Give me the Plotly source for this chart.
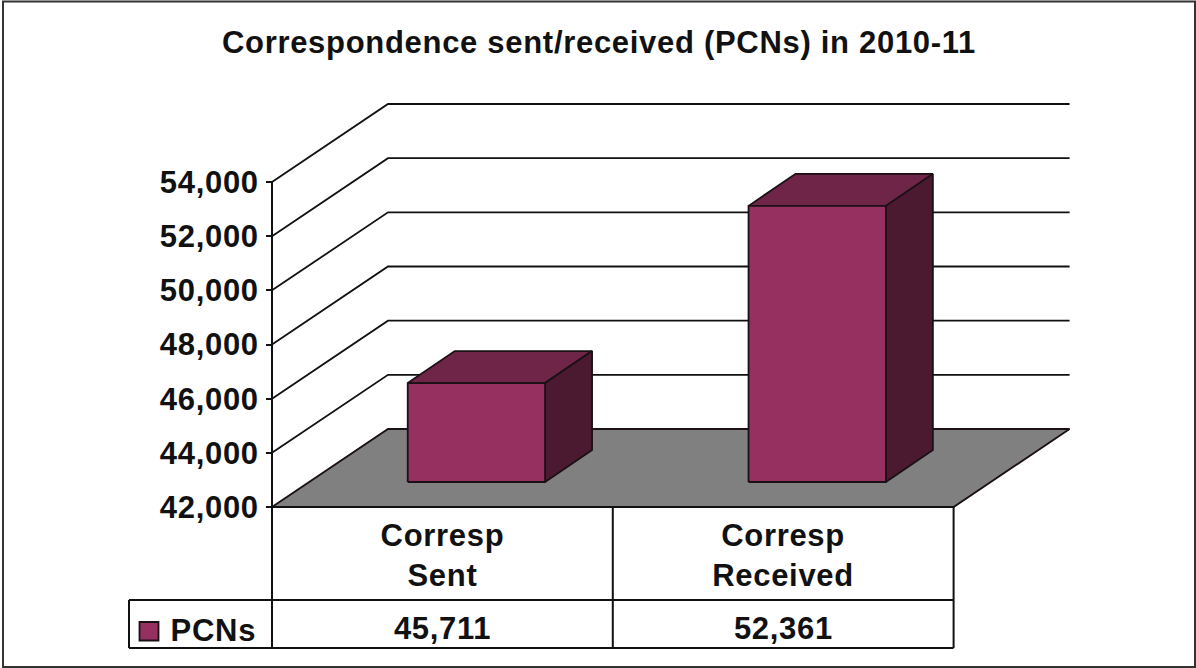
import plotly.graph_objects as go

# ---- data ----
title = "Correspondence sent/received (PCNs) in 2010-11"
categories = ["Corresp<br>Sent", "Corresp<br>Received"]
series_name = "PCNs"
pcn_values = [45711, 52361]
y_ticks = [42000, 44000, 46000, 48000, 50000, 52000, 54000]

# ---- geometry (style) ----
W, H = 1196, 668
X0, Y0 = 272, 507            # pixel of category 0 / value 42000 on front plane
PX_CAT = 340.8               # px per category
PX_VAL = 325 / 12000         # px per value unit
WALL_DX, WALL_DY = 116, 78   # front plane to back wall
BAR_DX, BAR_DY = 47, 32      # bar depth
BAR_OFF_DX, BAR_OFF_DY = 34, 25
BAR_WIDTH = 0.403
BAR_SCALE = 0.984
VMIN = y_ticks[0]
VMAX = y_ticks[-1]
FONT = "Liberation Sans"
INK = "#111111"
LETTER_SPACING = "0.7px"

def dx(px):
    return px / PX_CAT

def dv(px):
    return px / PX_VAL

def poly(xs, ys, fill, lw=1.8):
    return go.Scatter(x=xs, y=ys, mode="lines", fill="toself", fillcolor=fill,
                      line=dict(color="#1a1016", width=lw), hoverinfo="skip", showlegend=False)

def line(xs, ys, color=INK, lw=2):
    return go.Scatter(x=xs, y=ys, mode="lines", line=dict(color=color, width=lw),
                      hoverinfo="skip", showlegend=False)

fig = go.Figure()
n = len(categories)

# back wall gridlines and side wall lines
for t in y_ticks[1:]:
    fig.add_trace(line([0, dx(WALL_DX), n + dx(WALL_DX)],
                       [t, t + dv(WALL_DY), t + dv(WALL_DY)], lw=1.8))
# floor
fig.add_trace(poly([0, dx(WALL_DX), n + dx(WALL_DX), n, 0],
                   [VMIN, VMIN + dv(WALL_DY), VMIN + dv(WALL_DY), VMIN, VMIN], "#808080"))
# axis line
fig.add_trace(line([0, 0], [VMIN, VMAX], lw=2))

# bars
for i, v in enumerate(pcn_values):
    x0 = i + 0.5 - BAR_WIDTH / 2 + dx(BAR_OFF_DX)
    x1 = x0 + BAR_WIDTH
    yb = VMIN + dv(BAR_OFF_DY)
    yt = yb + (v - VMIN) * BAR_SCALE
    ddx, ddv = dx(BAR_DX), dv(BAR_DY)
    fig.add_trace(poly([x0, x0 + ddx, x1 + ddx, x1, x0],
                       [yt, yt + ddv, yt + ddv, yt, yt], "#6f2548"))
    fig.add_trace(poly([x1, x1 + ddx, x1 + ddx, x1, x1],
                       [yt, yt + ddv, yb + ddv, yb, yt], "#4b1a30"))
    fig.add_trace(poly([x0, x1, x1, x0, x0], [yb, yb, yt, yt, yb], "#963060"))

# data table
def py(px):
    return 1 - px / H

def px_(px):
    return px / W

ROW1, ROW2 = 600, 648
LEG_X = 129
shapes = []
def seg(x0, y0, x1, y1, w=2):
    shapes.append(dict(type="line", xref="paper", yref="paper",
                       x0=px_(x0), y0=py(y0), x1=px_(x1), y1=py(y1),
                       line=dict(color=INK, width=w)))

seg(X0, Y0, X0 + n * PX_CAT, Y0)
for i in range(n + 1):
    seg(X0 + i * PX_CAT, Y0, X0 + i * PX_CAT, ROW2)
seg(LEG_X, ROW1, X0 + n * PX_CAT, ROW1)
seg(LEG_X, ROW2, X0 + n * PX_CAT, ROW2)
seg(LEG_X, ROW1, LEG_X, ROW2)
# legend swatch
shapes.append(dict(type="rect", xref="paper", yref="paper",
                   x0=px_(139.5), x1=px_(158.5), y0=py(640.5), y1=py(622),
                   fillcolor="#963060", line=dict(color="#1a1016", width=1.8)))
# outer frame
shapes.append(dict(type="rect", xref="paper", yref="paper",
                   x0=px_(3), x1=px_(1195), y0=py(667), y1=py(1.5),
                   fillcolor="rgba(0,0,0,0)", line=dict(color="#333333", width=2)))

ann = []
def text(x, y, s, size, xanchor="center"):
    ann.append(dict(x=px_(x), y=py(y), xref="paper", yref="paper", text=s, showarrow=False,
                    xanchor=xanchor, yanchor="middle", align="center",
                    font=dict(family=FONT, size=size, color=INK)))

S = 31
text(599, 42, "<b>%s</b>" % title, S)
for i, c in enumerate(categories):
    cx = X0 + (i + 0.5) * PX_CAT
    text(cx, 555, "<b>%s</b>" % c, S)
    text(cx, 628, "<b>{:,}</b>".format(pcn_values[i]), S)
text(170, 630, "<b>%s</b>" % series_name, S, "left")

fig.update_layout(
    width=W, height=H, margin=dict(l=0, r=0, t=0, b=0),
    paper_bgcolor="white", plot_bgcolor="white", showlegend=False,
    xaxis=dict(visible=False, domain=[0, 1],
               range=[-X0 / PX_CAT, (W - X0) / PX_CAT]),
    yaxis=dict(anchor="free", position=X0 / W, domain=[0, 1],
               range=[VMIN - (H - Y0) / PX_VAL, VMIN + Y0 / PX_VAL],
               tickmode="array", tickvals=y_ticks,
               ticktext=["<b>{:,}</b>".format(t) for t in y_ticks],
               ticks="outside", ticklen=6, tickwidth=2, tickcolor=INK,
               ticklabelstandoff=1,
               showgrid=False, zeroline=False, showline=False,
               tickfont=dict(family=FONT, size=S, color=INK)),
    shapes=shapes, annotations=ann,
)

fig.write_html("out.html", config=dict(displayModeBar=False),
               post_script="document.body.style.margin='0';document.documentElement.style.overflow='hidden';"
                           "document.querySelectorAll('svg text').forEach(function(t){t.style.letterSpacing='%s';});" % LETTER_SPACING)
